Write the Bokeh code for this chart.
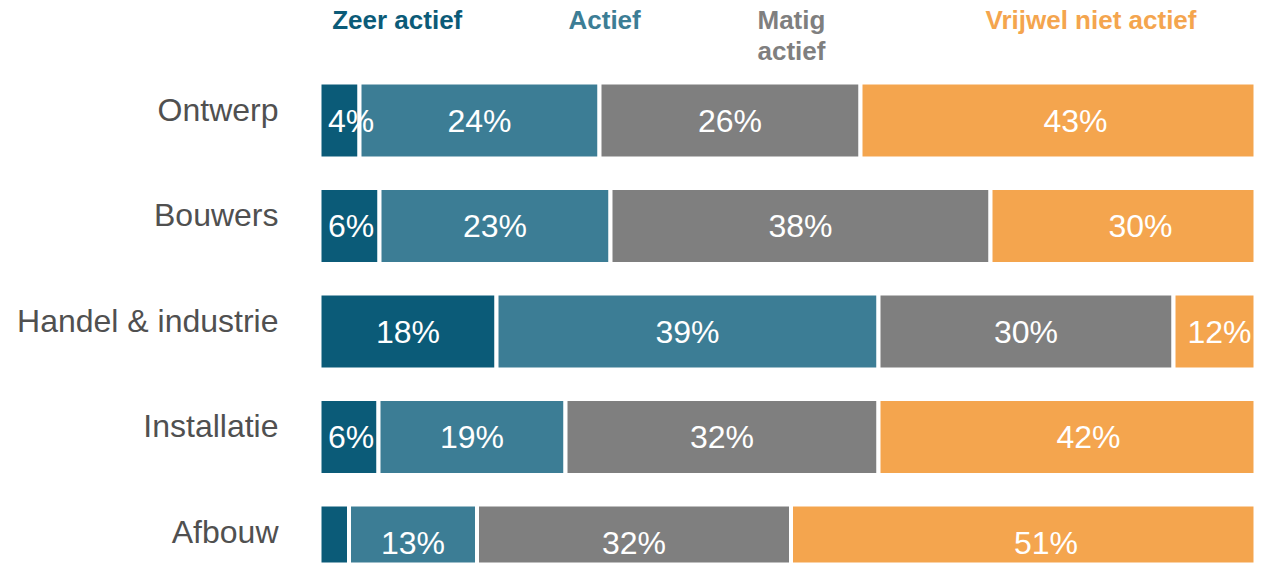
from bokeh.plotting import figure
from bokeh.models import ColumnDataSource, Range1d
from bokeh.core.properties import value
from bokeh.embed import file_html
from bokeh.resources import INLINE

# ---- data ----
categories = ["Ontwerp", "Bouwers", "Handel & industrie", "Installatie", "Afbouw"]
series = ["Zeer actief", "Actief", "Matig actief", "Vrijwel niet actief"]

zeer_actief = [4.0, 6.0, 17.7, 5.9, 2.95]
actief = [24.0, 23.1, 38.2, 18.7, 12.8]
matig_actief = [26.1, 38.0, 29.5, 31.3, 31.4]
vrijwel_niet_actief = [43, 30, 12, 42, 51]

labels_zeer_actief = ["4%", "6%", "18%", "6%", ""]
labels_actief = ["24%", "23%", "39%", "19%", "13%"]
labels_matig_actief = ["26%", "38%", "30%", "32%", "32%"]
labels_vrijwel_niet_actief = ["43%", "30%", "12%", "42%", "51%"]

colors = ["#0B5B78", "#3C7D95", "#7F7F7F", "#F4A54E"]

# ---- figure ----
FONT = value("Liberation Sans")
STEP = 105.5            # pixels between bar rows
PX = 1.0 / STEP         # one screen pixel in y data units
TOP = 4 + 120 * PX      # y value at the top edge of the canvas
HEIGHT = 564
X_END = 93.6
p = figure(width=1255, height=HEIGHT,
           x_range=Range1d(-31.9, X_END), y_range=Range1d(TOP - HEIGHT * PX, TOP),
           output_backend="svg", toolbar_location=None,
           x_axis_location=None, y_axis_location=None, min_border=0)
p.grid.visible = False
p.outline_line_color = None
p.background_fill_color = "white"
p.border_fill_color = "white"

n = len(categories)
ypos = [n - 1 - i for i in range(n)]

values = [zeer_actief, actief, matig_actief, vrijwel_niet_actief]
labels = [labels_zeer_actief, labels_actief, labels_matig_actief, labels_vrijwel_niet_actief]

left = [0.0] * n
label_sources = []
for vals, labs, col in zip(values, labels, colors):
    right = [l + v for l, v in zip(left, vals)]
    mid = [min(max((l + r) / 2.0, 3.15), X_END - 3.6) for l, r in zip(left, right)]
    src = ColumnDataSource(dict(y=ypos, left=left, right=right, mid=mid, lab=labs))
    p.hbar(y="y", left="left", right="right", height=76 * PX, source=src,
           fill_color=col, line_color="white", line_width=4)
    label_sources.append(src)
    left = right

# value labels drawn on top of all bars
for src in label_sources:
    p.text(x="mid", y="y", text="lab", source=src, text_color="white",
           text_font=FONT, text_font_size="32px",
           text_align="center", text_baseline="middle")

# category labels (sit slightly above the bar centre)
cat_src = ColumnDataSource(dict(x=[0] * n, y=[y + 11 * PX for y in ypos], t=categories))
p.text(x="x", y="y", text="t", source=cat_src, x_offset=-41,
       text_align="right", text_baseline="middle",
       text_font=FONT, text_font_size="32px", text_color="#505050")

# series header labels
head_src = ColumnDataSource(dict(
    x=[1.27, 24.9, 43.8, 43.8, 66.6],
    y=[TOP - 19.5 * PX, TOP - 19.5 * PX, TOP - 19.5 * PX, TOP - 50.5 * PX, TOP - 19.5 * PX],
    t=["Zeer actief", "Actief", "Matig", "actief", "Vrijwel niet actief"],
    c=[colors[0], colors[1], colors[2], colors[2], colors[3]],
))
p.text(x="x", y="y", text="t", source=head_src, text_color="c",
       text_align="left", text_baseline="middle",
       text_font=FONT, text_font_size="26px", text_font_style="bold")

open("out.html", "w").write(file_html(p, INLINE))
